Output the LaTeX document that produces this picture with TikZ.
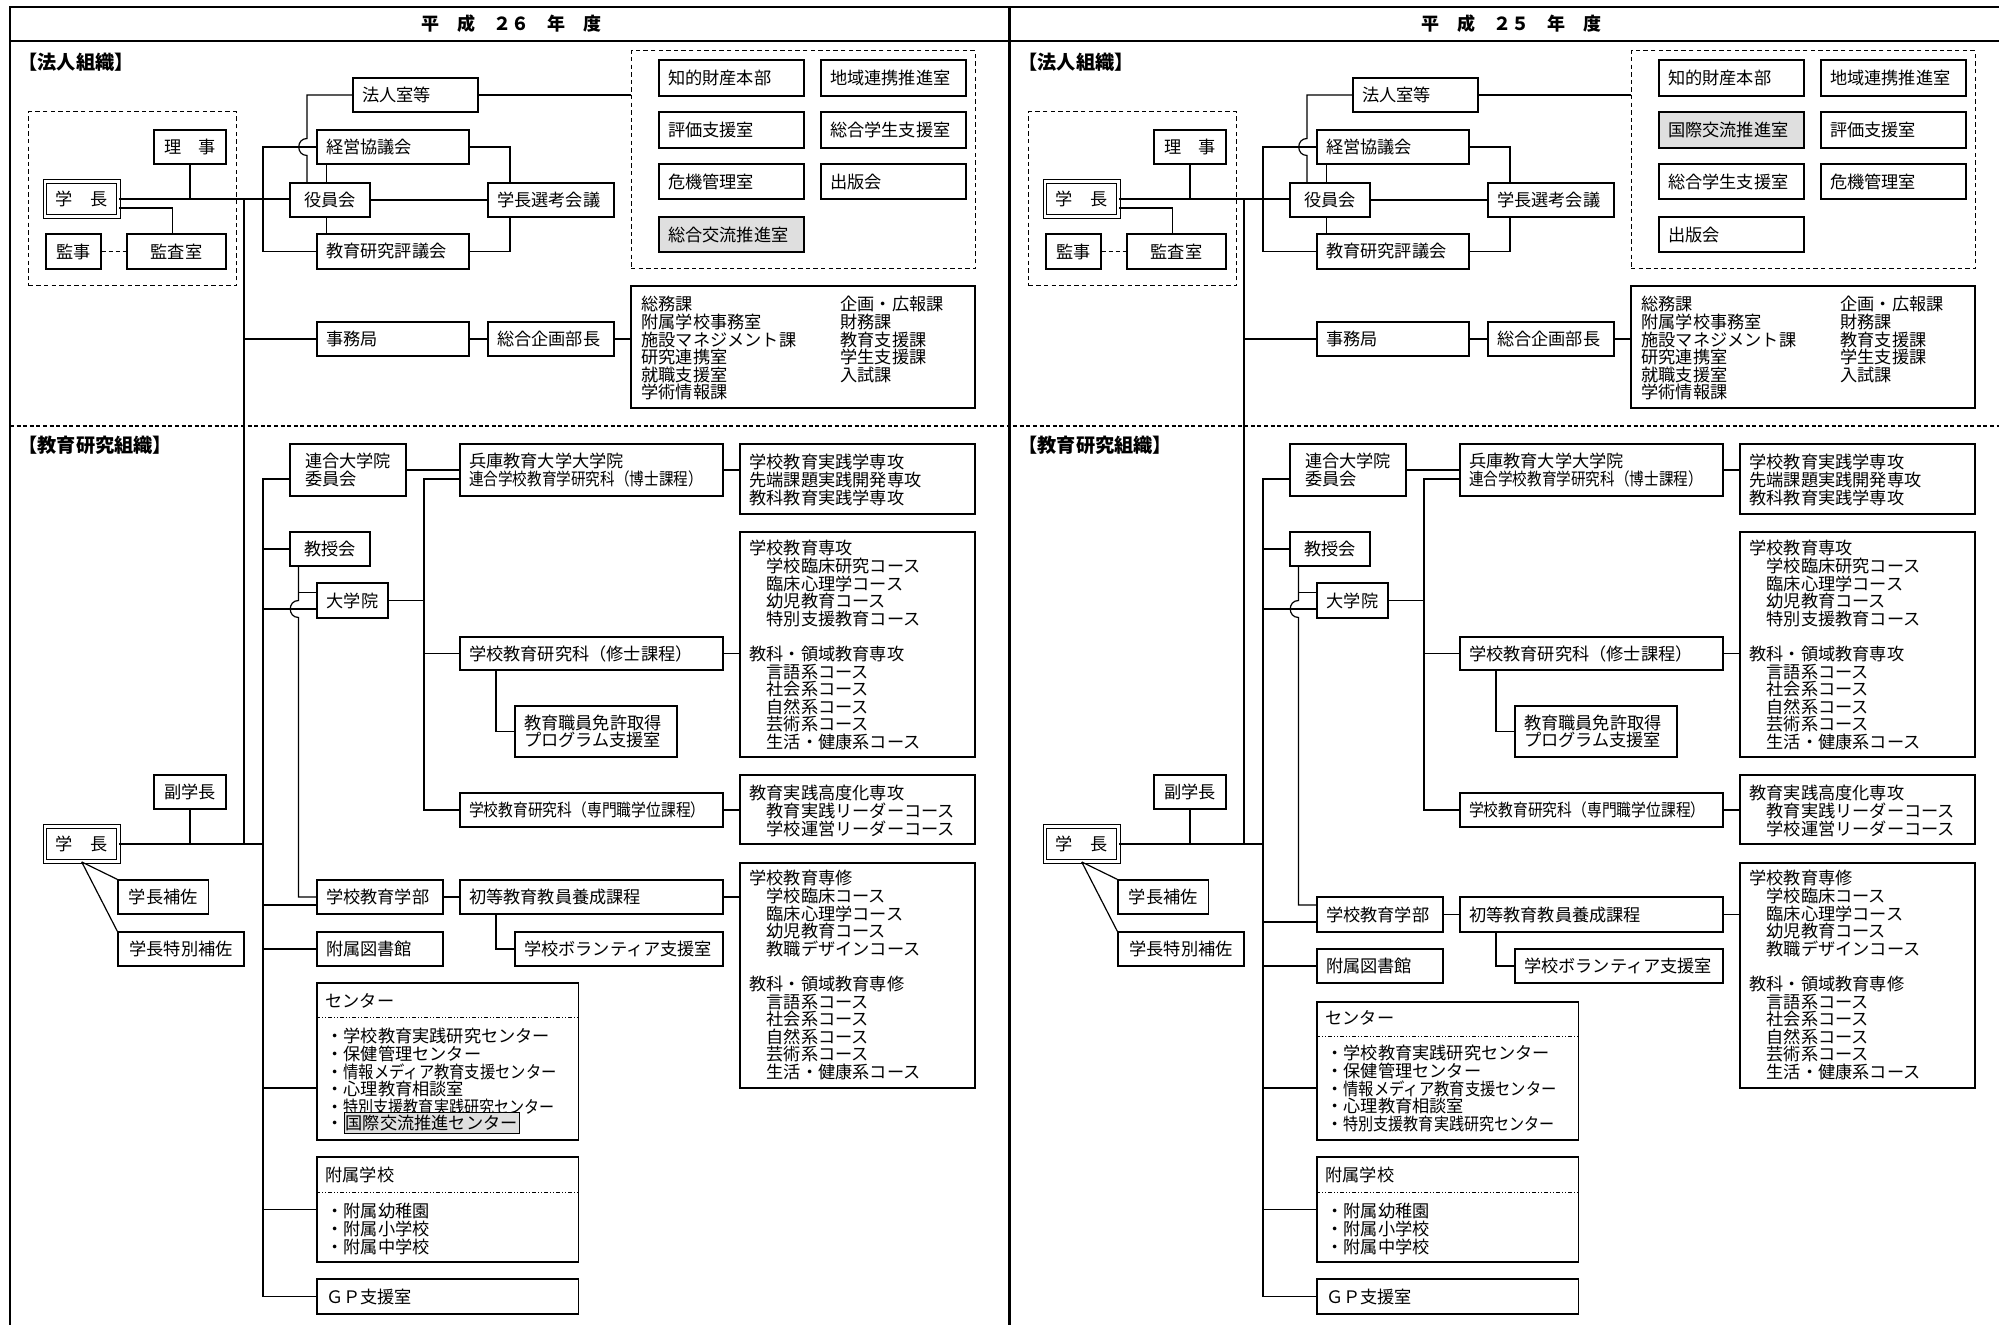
\documentclass[tikz,border=0pt]{standalone}
\usepackage{fontspec}
\setmainfont{Noto Sans CJK JP}
\usepackage{graphicx}
\usetikzlibrary{calc}
\newcommand\fs{\fontsize{8.6}{8.8}\selectfont}
\newcommand\lblfont{\fontsize{9.6}{10}\selectfont\bfseries}
\newcommand\ttlfont{\fontsize{9}{10}\selectfont\bfseries}
\newcommand\cond[2]{\scalebox{#1}[1]{#2}}
\tikzset{
 ln/.style={line width=0.6pt},
 box/.style={draw, line width=0.6pt, inner xsep=4.5pt, inner ysep=0pt, font=\fs, align=left},
 dashbox/.style={dash pattern=on 2.2pt off 1.6pt, line width=0.5pt},
 dbl/.style={double, double distance=1.1pt, line width=0.5pt},
 graybox/.style={fill=gray!25},
 txt/.style={font=\fs, inner sep=0pt},
 lbl/.style={font=\lblfont, inner sep=0pt},
 ttl/.style={font=\ttlfont, inner sep=0pt},
 hl/.style={draw, fill=gray!25, line width=0.5pt, inner xsep=0.8pt, inner ysep=1.5pt, font=\fs},
 ddot/.style={line width=0.5pt, dash pattern=on 2pt off 1pt on 0.5pt off 1pt on 0.5pt off 1pt},
 kdash/.style={line width=0.6pt, dash pattern=on 2pt off 1.5pt},
 frame/.style={line width=1.4pt},
}
\newcommand{\Bx}[7][]{%
 \pgfmathsetmacro\bw{(#5-#3)*0.5}%
 \pgfmathsetmacro\bh{(#6-#4)*0.5}%
 \pgfmathsetmacro\btw{(#5-#3)*0.5-9}%
 \pgfmathsetmacro\bcx{(#3+#5)/2}%
 \pgfmathsetmacro\bcy{(#4+#6)/2}%
 \node[box,minimum width=\bw pt,minimum height=\bh pt,text width=\btw pt,#1] (#2) at (\bcx,\bcy) {#7};%
}
\newcommand{\Bc}[7][]{%
 \pgfmathsetmacro\bw{(#5-#3)*0.5}%
 \pgfmathsetmacro\bh{(#6-#4)*0.5}%
 \pgfmathsetmacro\bcx{(#3+#5)/2}%
 \pgfmathsetmacro\bcy{(#4+#6)/2}%
 \node[box,minimum width=\bw pt,minimum height=\bh pt,#1] (#2) at (\bcx,\bcy) {#7};%
}
\newcommand{\Lines}[4]{\node[txt,anchor=north west,align=left] (#1) at (#2,#3-9.5) {\rule{0pt}{8pt}#4};}

\newcommand{\PanelNodes}[1]{%
 \node[lbl,anchor=west] (#1lab1) at (18,62) {【法人組織】};
 \node[lbl,anchor=west] (#1lab2) at (18,445) {【教育研究組織】};
 \Bc[dashbox]{#1grpA}{28.7}{112}{236}{286}{}
 \Bc{#1rij}{154}{130}{226}{164}{理　事}
 \Bc[dbl]{#1gaku}{45}{181.5}{118.5}{216.5}{学　長}
 \Bc{#1kanji}{46}{234}{101}{269}{監事}
 \Bc{#1kansa}{127}{234}{226}{269}{監査室}
 \Bx{#1houjin}{353}{78}{478}{112}{法人室等}
 \Bx{#1keiei}{317}{130}{469}{164}{経営協議会}
 \Bc{#1yakuin}{290}{183}{370}{217}{役員会}
 \Bx{#1kyoken}{317}{234}{469}{269}{教育研究評議会}
 \Bx{#1senko}{488}{183}{614}{217}{学長選考会議}
 \Bc[dashbox]{#1grpB}{631}{51}{975}{269}{}
 \Bx{#1jimu}{317}{322}{469}{356}{事務局}
 \Bx{#1sokikaku}{488}{322}{614}{356}{総合企画部長}
 \Bc{#1jlist}{631}{286}{975}{408}{}
 \Lines{#1jla}{641}{304}{総務課\\附属学校事務室\\施設マネジメント課\\研究連携室\\就職支援室\\学術情報課}
 \Lines{#1jlb}{840}{304}{企画・広報課\\財務課\\教育支援課\\学生支援課\\入試課}
 % lower
 \Bc{#1rengoi}{290}{444}{406}{496}{連合大学院\\委員会}
 \Bx{#1hyogo}{460}{444}{723}{496}{兵庫教育大学大学院\\\cond{0.85}{連合学校教育学研究科（博士課程）}}
 \Bc{#1rba}{740}{444}{975}{514}{}
 \Lines{#1rta}{749}{462}{学校教育実践学専攻\\先端課題実践開発専攻\\教科教育実践学専攻}
 \Bc{#1kyoju}{290}{532}{370}{566}{教授会}
 \Bc{#1dgi}{317}{583}{388}{618}{大学院}
 \Bx{#1shushi}{460}{637}{723}{670}{学校教育研究科（修士課程）}
 \Bc{#1rbb}{740}{532}{975}{757}{}
 \Lines{#1rtb}{749}{548}{学校教育専攻\\　学校臨床研究コース\\　臨床心理学コース\\　幼児教育コース\\　特別支援教育コース\\[8.8pt]教科・領域教育専攻\\　言語系コース\\　社会系コース\\　自然系コース\\　芸術系コース\\　生活・健康系コース}
 \Bx{#1menkyo}{515}{706}{677}{757}{教育職員免許取得\\プログラム支援室}
 \Bx{#1senmon}{460}{793}{723}{827}{\cond{0.86}{学校教育研究科（専門職学位課程）}}
 \Bc{#1rbc}{740}{775}{975}{844}{}
 \Lines{#1rtc}{749}{793}{教育実践高度化専攻\\　教育実践リーダーコース\\　学校運営リーダーコース}
 \Bc{#1fuku}{154}{775}{226}{809}{副学長}
 \Bc[dbl]{#1gakub}{45}{826.5}{118.5}{861.5}{学　長}
 \Bc{#1hosa}{118}{880}{208.5}{914}{学長補佐}
 \Bc{#1tokub}{118}{932}{244}{966}{学長特別補佐}
 \Bc{#1rbd}{740}{863}{975}{1088}{}
 \Lines{#1rtd}{749}{878}{学校教育専修\\　学校臨床コース\\　臨床心理学コース\\　幼児教育コース\\　教職デザインコース\\[8.8pt]教科・領域教育専修\\　言語系コース\\　社会系コース\\　自然系コース\\　芸術系コース\\　生活・健康系コース}
 \Bc{#1fuzoku}{317}{1157}{578.5}{1262}{}
 \node[txt,anchor=base west] (#1fzt) at (325,1175+6.5) {附属学校};
 \draw[ddot] (#1fuzoku.west |- 0,1192) -- (#1fuzoku.east |- 0,1192);
 \Lines{#1fzl}{326}{1211}{・附属幼稚園\\・附属小学校\\・附属中学校}
 \Bx{#1gp}{317}{1279}{578.5}{1314}{ＧＰ支援室}
 \coordinate (#1va) at (244,0);
 \coordinate (#1vb) at (263,0);
 \coordinate (#1vc) at (307,0);
 \coordinate (#1vd) at (326.5,0);
 \coordinate (#1ve) at (510,0);
 \coordinate (#1vf) at (298.5,0);
 \coordinate (#1vg) at (424,0);
 \coordinate (#1vh) at (496,0);
 \coordinate (#1vi) at (172.5,0);
}

\newcommand{\PanelLinks}[1]{%
 \draw[ln] (#1gaku.east) -- (#1gaku.east -| #1yakuin.west);
 \draw[ln] (#1rij.south) -- (#1rij.south |- #1gaku.east);
 \draw[ln] ($(#1gaku.east)+(0,9)$) -| (#1vi |- #1kansa.north);
 \draw[kdash] (#1kanji.east) -- (#1kansa.west);
 \draw[ln] (#1va |- #1gaku.east) -- (#1va |- #1gakub.east);
 \draw[ln] (#1va |- #1jimu.west) -- (#1jimu.west);
 \draw[ln] (#1keiei.west) -- (#1keiei.west -| #1vb) -- (#1kyoken.west -| #1vb) -- (#1kyoken.west);
 \draw[ln] (#1houjin.west) -- (#1houjin.west -| #1vc) -- ($(#1keiei.west -| #1vc)+(0,-8.5)$) .. controls +(-11,0) and +(-11,0) .. ($(#1keiei.west -| #1vc)+(0,8.5)$) -- (#1vc |- #1yakuin.north);
 \draw[ln] (#1vd |- #1keiei.south) -- (#1vd |- #1yakuin.north);
 \draw[ln] (#1vd |- #1yakuin.south) -- (#1vd |- #1kyoken.north);
 \draw[ln] (#1yakuin.east) -- (#1yakuin.east -| #1senko.west);
 \draw[ln] (#1keiei.east) -| (#1ve |- #1senko.north);
 \draw[ln] (#1kyoken.east) -| (#1ve |- #1senko.south);
 \draw[ln] (#1houjin.east) -- (#1houjin.east -| #1grpB.west);
 \draw[ln] (#1jimu.east) -- (#1sokikaku.west);
 \draw[ln] (#1sokikaku.east) -- (#1sokikaku.east -| #1jlist.west);
 % lower
 \draw[ln] ($(#1rengoi.west)+(0,9)$) -- ($(#1rengoi.west -| #1vb)+(0,9)$) -- (#1vb |- #1gp.west) -- (#1gp.west);
 \draw[ln] (#1vb |- #1kyoju.west) -- (#1kyoju.west);
 \draw[ln] ($(#1vb |- #1dgi.west)+(0,8.5)$) -- ($(#1dgi.west)+(0,8.5)$);
 \draw[ln] ($(#1vf |- #1dgi.west)+(0,-8)$) -- ($(#1dgi.west)+(0,-8)$);
 \draw[ln] (#1vb |- #1gakub.east) -- (#1gakub.east);
 \draw[ln] (#1vb |- #1tosho.west) -- (#1tosho.west);
 \draw[ln] (#1vb |- 0,1088) -- (#1cent.west |- 0,1088);
 \draw[ln] (#1vb |- #1fuzoku.west) -- (#1fuzoku.west);
 \draw[ln] (#1vf |- #1kyoju.south) -- (#1vf |- #1dgi.west) .. controls +(-11,0) and +(-11,0) .. ($(#1vf |- #1dgi.west)+(0,17)$) -- (#1vf |- #1gbA) -- (#1gbA);
 \draw[ln] (#1vb |- #1gbB) -- (#1gbB);
 \draw[ln] (#1dgi.east) -- (#1dgi.east -| #1vg);
 \draw[ln] ($(#1hyogo.west)+(0,9)$) -- ($(#1hyogo.west -| #1vg)+(0,9)$) -- (#1vg |- #1senmon.west) -- (#1senmon.west);
 \draw[ln] (#1vg |- #1shushi.west) -- (#1shushi.west);
 \draw[ln] (#1rengoi.east) -- (#1rengoi.east -| #1hyogo.west);
 \draw[ln] (#1hyogo.east) -- (#1hyogo.east -| #1rba.west);
 \draw[ln] (#1shushi.east) -- (#1shushi.east -| #1rbb.west);
 \draw[ln] (#1vh |- #1shushi.south) -- (#1vh |- #1menkyo.west) -- (#1menkyo.west);
 \draw[ln] (#1senmon.east) -- (#1senmon.east -| #1rbc.west);
 \draw[ln] (#1fuku.south) -- (#1fuku.south |- #1gakub.east);
 \draw[ln] (#1gakub.south) -- (#1hosa.north west);
 \draw[ln] (#1gakub.south) -- (#1tokub.north west);
 \draw[ln] (#1gakubu.east) -- (#1gakubu.east -| #1shoto.west);
 \draw[ln] (#1shoto.east) -- (#1shoto.east -| #1rbd.west);
 \draw[ln] (#1vh |- #1shoto.south) -- (#1vh |- #1vol.west) -- (#1vol.west);
}

\begin{document}
\begin{tikzpicture}[x=0.5pt,y=-0.5pt]
\useasboundingbox (0,0) rectangle (1999,1325);
\fill[white] (0,0) rectangle (1999,1325);
% frame
\draw[frame] (10,1325) -- (10,7) -- (1999,7);
\draw[frame] (10,41) -- (1999,41);
\draw[frame] (1009.5,7) -- (1009.5,1325);
\draw[line width=1.3pt, dash pattern=on 2pt off 1.3pt] (10,426) -- (1999,426);

% ---------------- left panel (H26)
\begin{scope}
\node[ttl] (Lttl) at (511,24) {平　成　２６　年　度};
\PanelNodes{L}
\Bx{Ls1}{659}{60}{804}{96}{知的財産本部}
\Bx{Ls2}{821}{60}{966}{96}{地域連携推進室}
\Bx{Ls3}{659}{112}{804}{148}{評価支援室}
\Bx{Ls4}{821}{112}{966}{148}{総合学生支援室}
\Bx{Ls5}{659}{164}{804}{199}{危機管理室}
\Bx{Ls6}{821}{164}{966}{199}{出版会}
\Bx[graybox]{Ls7}{659}{217}{804}{252}{総合交流推進室}
\Bx{Lgakubu}{317}{880}{443}{914}{学校教育学部}
\Bx{Lshoto}{460}{880}{723}{914}{初等教育教員養成課程}
\Bx{Lvol}{515}{932}{723}{966}{学校ボランティア支援室}
\Bx{Ltosho}{317}{932}{443}{966}{附属図書館}
\Bc{Lcent}{317}{983}{578.5}{1140}{}
\node[txt,anchor=base west] (Lct) at (325,1001+6.5) {センター};
\draw[ddot] (Lcent.west |- 0,1018) -- (Lcent.east |- 0,1018);
\Lines{Lcl}{326}{1036}{・学校教育実践研究センター\\・保健管理センター\\・\cond{0.89}{情報メディア教育支援センター}\\・心理教育相談室\\・\cond{0.876}{特別支援教育実践研究センター}}
\node[txt,anchor=base west] (Lcb) at (326,1123+6.5) {・};
\node[hl,anchor=base west] (Lchl) at (343.5,1123+6.5) {国際交流推進センター};
\coordinate (LgbA) at (Lgakubu.west);
\coordinate (LgbB) at ($(Lgakubu.west)+(0,8)$);
\PanelLinks{L}
\end{scope}

% ---------------- right panel (H25)
\begin{scope}[xshift=500pt]
\node[ttl] (Rttl) at (511,24) {平　成　２５　年　度};
\PanelNodes{R}
\Bx{Rs1}{659}{60}{804}{96}{知的財産本部}
\Bx{Rs2}{821}{60}{966}{96}{地域連携推進室}
\Bx[graybox]{Rs3}{659}{112}{804}{148}{国際交流推進室}
\Bx{Rs4}{821}{112}{966}{148}{評価支援室}
\Bx{Rs5}{659}{164}{804}{199}{総合学生支援室}
\Bx{Rs6}{821}{164}{966}{199}{危機管理室}
\Bx{Rs7}{659}{217}{804}{252}{出版会}
\Bx{Rgakubu}{317}{897}{443}{932}{学校教育学部}
\Bx{Rshoto}{460}{897}{723}{932}{初等教育教員養成課程}
\Bx{Rvol}{515}{949}{723}{983}{学校ボランティア支援室}
\Bx{Rtosho}{317}{949}{443}{983}{附属図書館}
\Bc{Rcent}{317}{1002}{578.5}{1140}{}
\node[txt,anchor=base west] (Rct) at (325,1018+6.5) {センター};
\draw[ddot] (Rcent.west |- 0,1037) -- (Rcent.east |- 0,1037);
\Lines{Rcl}{326}{1053}{・学校教育実践研究センター\\・保健管理センター\\・\cond{0.89}{情報メディア教育支援センター}\\・心理教育相談室\\・\cond{0.876}{特別支援教育実践研究センター}}
\coordinate (RgbA) at ($(Rgakubu.west)+(0,-9.5)$);
\coordinate (RgbB) at ($(Rgakubu.west)+(0,7.5)$);
\PanelLinks{R}
\end{scope}
\end{tikzpicture}
\end{document}
